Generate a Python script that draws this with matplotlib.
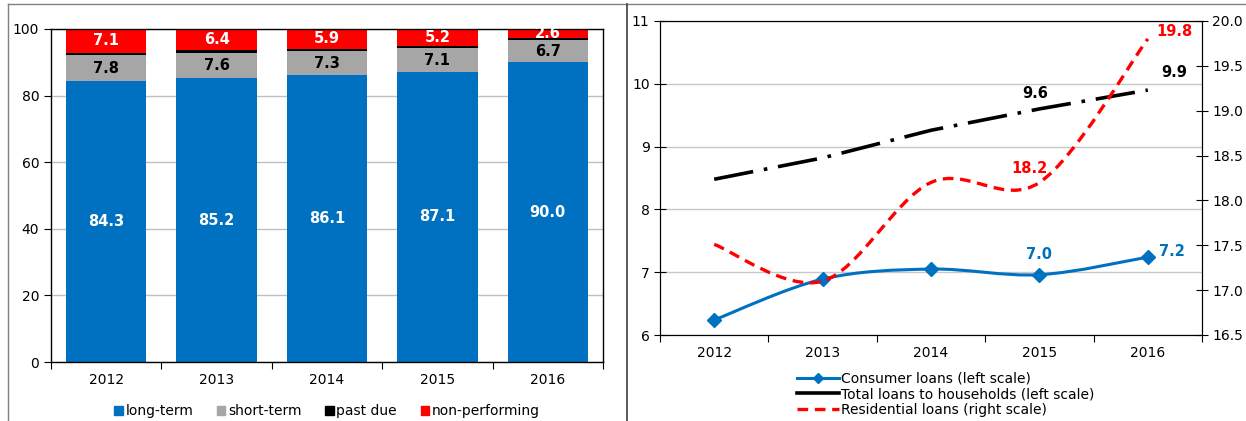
import matplotlib
matplotlib.use('Agg')
import matplotlib.pyplot as plt
import numpy as np
from matplotlib.path import Path
from matplotlib.patches import PathPatch, Patch
from matplotlib.lines import Line2D

plt.rcParams['font.family'] = ['DejaVu Sans']

# Left chart data: structure of loans (%)
years = ['2012', '2013', '2014', '2015', '2016']
long_term = [84.3, 85.2, 86.1, 87.1, 90.0]
short_term = [7.8, 7.6, 7.3, 7.1, 6.7]
past_due = [0.8, 0.8, 0.7, 0.6, 0.7]
non_performing = [7.1, 6.4, 5.9, 5.2, 2.6]

# Right chart data
consumer = [6.24, 6.89, 7.05, 6.96, 7.24]
total_hh = [8.48, 8.82, 9.26, 9.6, 9.9]
residential = [17.51, 17.1, 18.2, 18.2, 19.8]

BLUE = '#0070C0'
GRAY = '#A6A6A6'
RED = '#FF0000'


def smooth_path(xs, ys):
    # Excel-style smoothed line as cubic Bezier segments through the points
    pts = np.column_stack([xs, ys]).astype(float)
    n = len(pts)
    verts = [pts[0]]
    codes = [Path.MOVETO]
    for i in range(n - 1):
        p0 = pts[max(i - 1, 0)]
        p1 = pts[i]
        p2 = pts[i + 1]
        p3 = pts[min(i + 2, n - 1)]
        c1 = p1 + (p2 - p0) / 6.0
        c2 = p2 - (p3 - p1) / 6.0
        verts += [c1, c2, p2]
        codes += [Path.CURVE4] * 3
    return Path(verts, codes)


fig = plt.figure(figsize=(12.46, 4.21), dpi=100)

# ---------- left chart ----------
ax1 = fig.add_axes([51 / 1246, 1 - 362 / 421, 552 / 1246, 333 / 421])
x = np.arange(len(years))
w = 0.73
ax1.bar(x, long_term, w, color=BLUE, zorder=2)
bottom2 = np.array(long_term)
ax1.bar(x, short_term, w, bottom=bottom2, color=GRAY, zorder=2)
bottom3 = bottom2 + np.array(short_term)
ax1.bar(x, past_due, w, bottom=bottom3, color='black', zorder=2)
bottom4 = bottom3 + np.array(past_due)
ax1.bar(x, non_performing, w, bottom=bottom4, color=RED, zorder=2)

for i in range(len(years)):
    ax1.text(x[i], long_term[i] / 2, f'{long_term[i]:.1f}', ha='center', va='center',
             color='white', fontweight='bold', fontsize=10.5, zorder=3)
    ax1.text(x[i], bottom2[i] + short_term[i] / 2, f'{short_term[i]:.1f}', ha='center',
             va='center', color='black', fontweight='bold', fontsize=10.5, zorder=3)
    ax1.text(x[i], bottom4[i] + non_performing[i] / 2, f'{non_performing[i]:.1f}',
             ha='center', va='center', color='white', fontweight='bold', fontsize=10.5, zorder=3)

ax1.set_xlim(-0.5, len(years) - 0.5)
ax1.set_ylim(0, 100)
ax1.set_yticks(range(0, 101, 20))
ax1.yaxis.grid(True, color='#C0C0C0', linewidth=1, zorder=0)
ax1.set_xticks(np.arange(-0.5, len(years), 1.0))
ax1.set_xticklabels([])
ax1.set_xticks(x, minor=True)
ax1.set_xticklabels(years, minor=True)
ax1.tick_params(axis='x', which='minor', length=0, labelsize=10, pad=8)
ax1.tick_params(axis='x', which='major', length=5, direction='out')
ax1.tick_params(axis='y', length=5, direction='out', labelsize=10)
for s in ax1.spines.values():
    s.set_linewidth(1)
ax1.legend([Patch(color=BLUE), Patch(color=GRAY), Patch(color='black'), Patch(color=RED)],
           ['long-term', 'short-term', 'past due', 'non-performing'],
           loc='upper center', bbox_to_anchor=(0.5, -0.09), ncol=4, frameon=False,
           fontsize=10, handlelength=0.6, handleheight=0.6, handletextpad=0.2,
           columnspacing=1.7)

# ---------- right chart ----------
ax2 = fig.add_axes([660 / 1246, 1 - 335 / 421, 542 / 1246, 314 / 421])
ax3 = ax2.twinx()
ax2.set_xlim(-0.5, len(years) - 0.5)
ax2.set_ylim(6, 11)
ax3.set_ylim(16.5, 20.0)
ax2.set_yticks(range(6, 12))
ax3.set_yticks(np.arange(16.5, 20.01, 0.5))
ax3.set_yticklabels([f'{v:.1f}' for v in np.arange(16.5, 20.01, 0.5)])
ax2.yaxis.grid(True, color='#C8C8C8', linewidth=1)
ax2.set_xticks(np.arange(-0.5, len(years), 1.0))
ax2.set_xticklabels([])
ax2.set_xticks(x, minor=True)
ax2.set_xticklabels(years, minor=True)
ax2.tick_params(axis='x', which='minor', length=0, labelsize=10, pad=8)
ax2.tick_params(axis='x', which='major', length=5, direction='out')
ax2.tick_params(axis='y', length=8, direction='inout', labelsize=10)
ax3.tick_params(axis='y', length=8, direction='inout', labelsize=10)

ax2.add_patch(PathPatch(smooth_path(x, consumer), fill=False, edgecolor=BLUE,
                        linewidth=2.2, zorder=3))
ax2.plot(x, consumer, linestyle='none', marker='D', markersize=7, color=BLUE, zorder=4)
ax2.plot(x, total_hh, color='black', linewidth=2.6, dashes=(11, 3, 1, 3), zorder=3)
ax3.add_patch(PathPatch(smooth_path(x, residential), fill=False, edgecolor=RED,
                        linewidth=2.4, linestyle=(0, (3.2, 2.0)), zorder=3))

ax2.annotate(f'{consumer[3]:.1f}', (x[3], consumer[3]), xytext=(0, 9), textcoords='offset points',
             ha='center', va='bottom', color=BLUE, fontweight='bold', fontsize=10.5)
ax2.annotate(f'{consumer[4]:.1f}', (x[4], consumer[4]), xytext=(8, 4), textcoords='offset points',
             ha='left', va='center', color=BLUE, fontweight='bold', fontsize=10.5)
ax2.annotate(f'{total_hh[3]:.1f}', (x[3], total_hh[3]), xytext=(-3, 6), textcoords='offset points',
             ha='center', va='bottom', color='black', fontweight='bold', fontsize=10.5)
ax2.annotate(f'{total_hh[4]:.1f}', (x[4], total_hh[4]), xytext=(19, 7), textcoords='offset points',
             ha='center', va='bottom', color='black', fontweight='bold', fontsize=10.5)
ax3.annotate(f'{residential[3]:.1f}', (x[3], residential[3]), xytext=(-7, 5), textcoords='offset points',
             ha='center', va='bottom', color=RED, fontweight='bold', fontsize=10.5)
ax3.annotate(f'{residential[4]:.1f}', (x[4], residential[4]), xytext=(19, 0), textcoords='offset points',
             ha='center', va='bottom', color=RED, fontweight='bold', fontsize=10.5)

handles = [Line2D([], [], color=BLUE, linewidth=2.2, marker='D', markersize=5),
           Line2D([], [], color='black', linewidth=2.6),
           Line2D([], [], color=RED, linewidth=2.4, linestyle=(0, (3.2, 2.0)))]
ax2.legend(handles, ['Consumer loans (left scale)', 'Total loans to households (left scale)',
                     'Residential loans (right scale)'],
           loc='upper left', bbox_to_anchor=(0.24, -0.095), frameon=False, fontsize=10,
           handlelength=3.0, handletextpad=0.15, labelspacing=0.1, borderpad=0)

# panel frame lines
fig.add_artist(Line2D([8 / 1246, 1.0], [1 - 4 / 421, 1 - 4 / 421], color='#808080', linewidth=1))
fig.add_artist(Line2D([8 / 1246, 8 / 1246], [0, 1 - 4 / 421], color='#808080', linewidth=1))
fig.add_artist(Line2D([627 / 1246, 627 / 1246], [0, 1 - 4 / 421], color='#404040', linewidth=1.2))

fig.savefig('out.png', dpi=100)
